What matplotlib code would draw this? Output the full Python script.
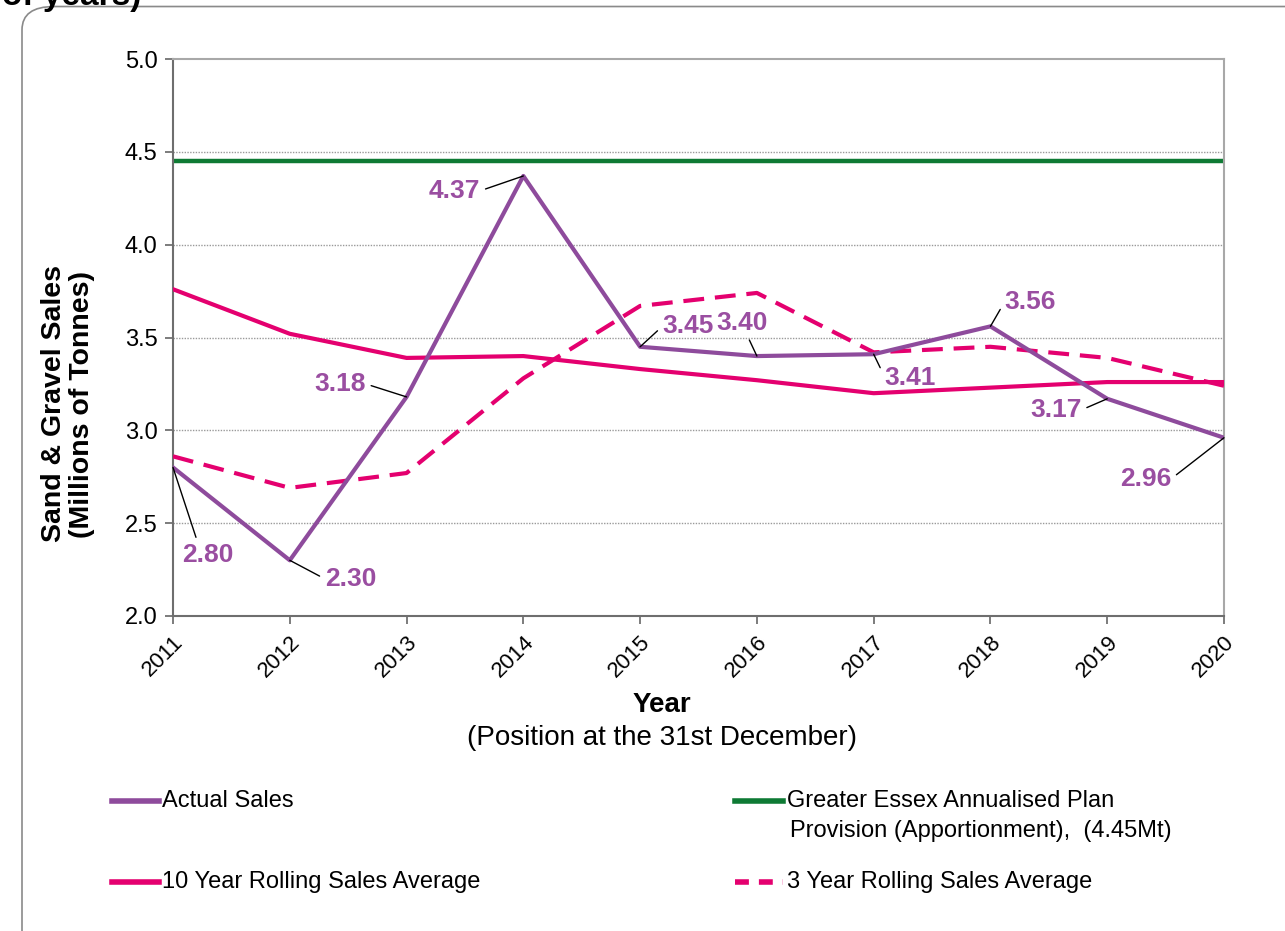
import matplotlib
matplotlib.use("Agg")
import matplotlib.pyplot as plt
from matplotlib.lines import Line2D
from matplotlib.patches import FancyBboxPatch

plt.rcParams['font.family'] = ['Liberation Sans', 'DejaVu Sans']

years = [2011, 2012, 2013, 2014, 2015, 2016, 2017, 2018, 2019, 2020]
actual = [2.80, 2.30, 3.18, 4.37, 3.45, 3.40, 3.41, 3.56, 3.17, 2.96]
avg10 = [3.76, 3.52, 3.39, 3.40, 3.33, 3.27, 3.20, 3.23, 3.26, 3.26]
avg3 = [2.86, 2.69, 2.77, 3.28, 3.67, 3.74, 3.42, 3.45, 3.39, 3.24]
plan = 4.45

# label centre positions (data coords) and where the leader joins the text
label_pos = [(2011.30, 2.33), (2012.52, 2.20), (2012.43, 3.25), (2013.41, 4.29),
             (2015.41, 3.56), (2015.87, 3.58), (2017.31, 3.28), (2018.34, 3.69),
             (2018.56, 3.11), (2019.33, 2.74)]
label_rel = [(0.3, 1.0), (0.0, 0.5), (1.0, 0.5), (1.0, 0.5), (0.0, 0.5),
             (0.6, 0.0), (0.0, 0.6), (0.0, 0.5), (1.0, 0.5), (1.0, 0.5)]

purple = '#8E4B9C'
purple_txt = '#9A4EA1'
pink = '#E4006F'
green = '#0E7A34'

fig = plt.figure(figsize=(12.85, 9.31), dpi=100)

# rounded frame
frame = FancyBboxPatch((22 / 1285, -0.05), 1.2, 1.043, transform=fig.transFigure,
                       boxstyle='round,pad=0,rounding_size=0.025',
                       fc='none', ec='#8a8a8a', lw=1.2, clip_on=False)
fig.patches.append(frame)
fig.text(2 / 1285, 1.0 + 3 / 931, 'of years)', fontsize=24, fontweight='bold',
         ha='left', va='center')

ax = fig.add_axes([173 / 1285, 1 - 616 / 931, (1224 - 173) / 1285, (616 - 59) / 931])

ax.axhline(plan, color=green, lw=3.2, zorder=2)
ax.plot(years, avg10, color=pink, lw=3, zorder=3)
ax.plot(years, avg3, color=pink, lw=3, dashes=(5, 2.6), zorder=3)
ax.plot(years, actual, color=purple, lw=3, zorder=4)

for y, v, (tx, ty), rp in zip(years, actual, label_pos, label_rel):
    ax.annotate('%.2f' % v, xy=(y, v), xytext=(tx, ty), textcoords='data',
                ha='center', va='center', fontsize=19, fontweight='bold',
                color=purple_txt, zorder=5,
                arrowprops=dict(arrowstyle='-', color='black', lw=1,
                                shrinkA=2, shrinkB=0, relpos=rp))

ax.set_xlim(2011, 2020)
ax.set_ylim(2.0, 5.0)
ax.set_xticks(years)
ax.set_xticklabels([str(y) for y in years], rotation=45, ha='right',
                   rotation_mode='anchor', fontsize=16)
yt = [2.0, 2.5, 3.0, 3.5, 4.0, 4.5, 5.0]
ax.set_yticks(yt)
ax.set_yticklabels(['%.1f' % t for t in yt], fontsize=17)
ax.tick_params(direction='out', length=6, width=1.2, color='#666666', pad=5)
for t in yt[1:-1]:
    ax.axhline(t, color='#9a9a9a', lw=1, ls=(0, (1, 1)), zorder=1)
ax.spines['left'].set_color('#6e6e6e')
ax.spines['bottom'].set_color('#6e6e6e')
ax.spines['top'].set_color('#a8a8a8')
ax.spines['right'].set_color('#a8a8a8')
for s in ax.spines.values():
    s.set_linewidth(1.5)

fig.text(68 / 1285, 1 - 404 / 931, 'Sand & Gravel Sales\n(Millions of Tonnes)',
         rotation=90, ha='center', va='center', fontsize=20.5, fontweight='bold',
         multialignment='center', linespacing=1.1)
fig.text(662 / 1285, 1 - 705 / 931, 'Year', ha='center', va='center',
         fontsize=20, fontweight='bold')
fig.text(662 / 1285, 1 - 738 / 931, '(Position at the 31st December)',
         ha='center', va='center', fontsize=20)

# legend drawn in figure coords
def leg_line(x0, x1, yy, color, dashes=None):
    ln = Line2D([x0 / 1285, x1 / 1285], [1 - yy / 931, 1 - yy / 931],
                transform=fig.transFigure, color=color, lw=4)
    if dashes:
        ln.set_dashes(dashes)
    fig.lines.append(ln)

lfs = 17
leg_line(112, 159, 801, purple)
fig.text(162 / 1285, 1 - 801 / 931, 'Actual Sales', fontsize=lfs, va='center')
leg_line(735, 783, 801, green)
fig.text(787 / 1285, 1 - 801 / 931, 'Greater Essex Annualised Plan', fontsize=lfs, va='center')
fig.text(790 / 1285, 1 - 831 / 931, 'Provision (Apportionment),  (4.45Mt)', fontsize=lfs, va='center')
leg_line(112, 159, 882, pink)
fig.text(162 / 1285, 1 - 882 / 931, '10 Year Rolling Sales Average', fontsize=lfs, va='center')
leg_line(735, 783, 882, pink, dashes=(2.5, 1.8))
fig.text(787 / 1285, 1 - 882 / 931, '3 Year Rolling Sales Average', fontsize=lfs, va='center')

fig.savefig('out.png', dpi=100)
